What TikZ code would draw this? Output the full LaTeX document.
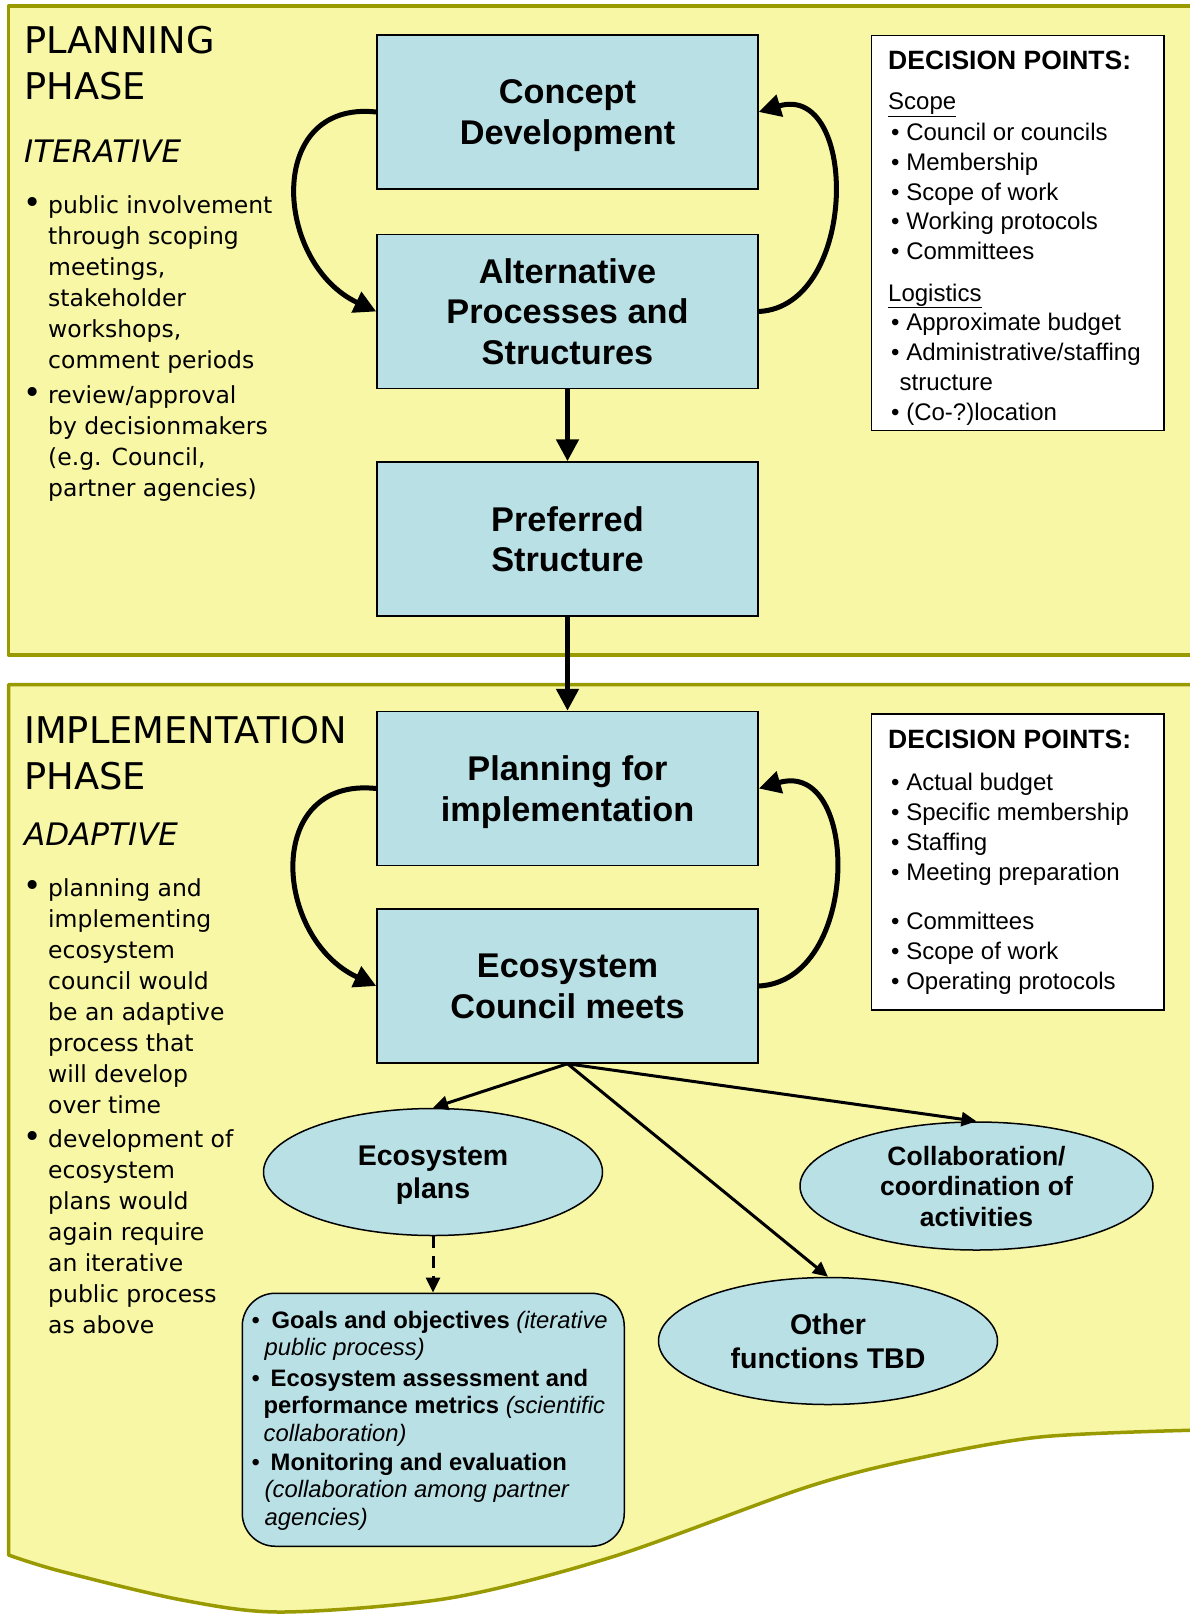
\documentclass[tikz,border=0pt]{standalone}
\usepackage{fontspec}
\setmainfont{Liberation Sans}
\newfontfamily\leftfont{DejaVu Sans}
\usepackage{tikz}
\usetikzlibrary{arrows.meta,shapes.geometric,positioning}
\definecolor{paneyellow}{RGB}{248,247,166}
\definecolor{paneolive}{RGB}{153,153,0}
\definecolor{stageblue}{RGB}{185,224,229}

\begin{document}
\begin{tikzpicture}[x=1pt,y=-1pt]
\tikzset{pane/.style = {fill=paneyellow,draw=paneolive,line width=3.5pt,line join=round},
 stage/.style = {rectangle,draw,line width=1.5pt,fill=stageblue,minimum width=381pt,minimum height=154pt,align=center,text depth=0pt,font=\fontsize{34.3}{40.5}\selectfont\bfseries},
 oval/.style = {ellipse,draw,line width=1.5pt,fill=stageblue,minimum width=339pt,minimum height=127pt,align=center,inner sep=0pt,text depth=0pt,font=\fontsize{28.5}{33.5}\selectfont\bfseries},
 decbox/.style = {draw,line width=1.5pt,fill=white,anchor=north west,minimum width=292.5pt,inner sep=0pt},
 txt/.style = {anchor=base west,inner sep=0pt},
 lefthead/.style = {txt,font=\leftfont\fontsize{36.8}{46.3}\selectfont},
 leftsub/.style = {txt,font=\leftfont\itshape\fontsize{31}{36}\selectfont},
 leftitem/.style = {txt,font=\leftfont\fontsize{23.5}{31}\selectfont},
 leftbullet/.style = {txt,font=\leftfont\fontsize{31}{31}\selectfont},
 dectitle/.style = {txt,font=\fontsize{26.5}{30}\selectfont\bfseries},
 decitem/.style = {txt,font=\fontsize{24}{29.8}\selectfont},
 noteitem/.style = {txt,font=\fontsize{23.8}{27.5}\selectfont},
 bigarrow/.style = {-{Triangle[length=22pt,width=22pt]},line width=5pt},
 thinarrow/.style = {-{Triangle[length=15pt,width=14pt]},line width=3pt}}
\useasboundingbox (0,0) rectangle (1190,1614);
%planning panel, runs off the right edge
\draw[pane] (1200,6) -- (8.5,6) -- (8.5,655) -- (1200,655);
%implementation panel with torn lower edge
\draw[pane] (1200,684.5) -- (8.5,684.5) -- (8.5,1555) -- plot[smooth,tension=0.5] coordinates {(8.5,1555) (60,1571) (182,1600) (283,1612) (450,1598) (612,1557) (804,1488) (910,1460) (1040,1437) (1200,1430)};
%main stages
\node[stage] (concept) at (567.5,112) {Concept\\Development};
\node[stage,below=44pt of concept] (altern) {Alternative\\Processes and\\Structures};
\node[stage,below=72pt of altern] (prefer) {Preferred\\Structure};
\node[stage,below=94pt of prefer] (planimpl) {Planning for\\implementation};
\node[stage,below=42pt of planimpl] (council) {Ecosystem\\Council meets};
%iteration loops
\draw[bigarrow] (concept.west) .. controls +(-112,-12) and +(-102,-48) .. (altern.west);
\draw[bigarrow] (altern.east) .. controls +(100,-5) and +(100,-30) .. (concept.east);
\draw[bigarrow] (planimpl.west) .. controls +(-113,-12) and +(-103,-48) .. (council.west);
\draw[bigarrow] (council.east) .. controls +(102,-5) and +(102,-30) .. (planimpl.east);
%straight flow
\draw[bigarrow] (altern) -- (prefer);
\draw[bigarrow] (prefer) -- (planimpl);
%council outputs
\node[oval] (ecoplans) at (433,1172) {Ecosystem\\plans};
\node[oval,minimum width=353pt,minimum height=128pt,font=\fontsize{26.5}{30.5}\selectfont\bfseries] (collab) at (976.5,1186) {Collaboration/\\coordination of\\activities};
\node[oval] (otherfn) at (828,1341) {Other\\functions TBD};
\draw[thinarrow] (council.south) -- (ecoplans.north);
\draw[thinarrow] (council.south) -- (collab.north);
\draw[thinarrow] (council.south) -- (otherfn.north);
%plan contents
\node[draw,line width=1.5pt,fill=stageblue,rounded corners=33pt,minimum width=382pt,minimum height=253pt,anchor=north west] (goals) at (241.5,1292.5) {};
\draw[thinarrow,dash pattern=on 12pt off 8pt] (ecoplans.south) -- (ecoplans.south |- goals.north);
\node[noteitem] (goalsa) at (251.5,1328) {\begin{tabular}[t]{@{}l@{}}\makebox[20pt][l]{\textbullet}\textbf{Goals and objectives} \textit{(iterative}\\\hspace*{13pt}\textit{public process)}\end{tabular}};
\node[noteitem] (goalsb) at (251.5,1386) {\begin{tabular}[t]{@{}l@{}}\makebox[19pt][l]{\textbullet}\textbf{Ecosystem assessment and}\\\hspace*{12pt}\textbf{performance metrics} \textit{(scientific}\\\hspace*{12pt}\textit{collaboration)}\end{tabular}};
\node[noteitem] (goalsc) at (251.5,1470) {\begin{tabular}[t]{@{}l@{}}\makebox[19pt][l]{\textbullet}\textbf{Monitoring and evaluation}\\\hspace*{13pt}\textit{(collaboration among partner}\\\hspace*{13pt}\textit{agencies)}\end{tabular}};
%planning phase notes
\node[lefthead] (plantitle) at (24,53.5) {\begin{tabular}[t]{@{}l@{}}PLANNING\\PHASE\end{tabular}};
\node[leftsub] (iter) at (24,162.6) {ITERATIVE};
\node[leftbullet] (pbul1) at (23,213) {\textbullet};
\node[leftitem] (pubinv) at (48,213) {\begin{tabular}[t]{@{}l@{}}public involvement\\through scoping\\meetings,\\stakeholder\\workshops,\\comment periods\end{tabular}};
\node[leftbullet] (pbul2) at (23,403.3) {\textbullet};
\node[leftitem] (review) at (48,403.3) {\begin{tabular}[t]{@{}l@{}}review/approval\\by decisionmakers\\(e.g. Council,\\partner agencies)\end{tabular}};
%implementation phase notes
\node[lefthead] (impltitle) at (24,743) {\begin{tabular}[t]{@{}l@{}}IMPLEMENTATION\\PHASE\end{tabular}};
\node[leftsub] (adapt) at (24,845) {ADAPTIVE};
\node[leftbullet] (ibul1) at (23,896.4) {\textbullet};
\node[leftitem] (adaptproc) at (48,896.4) {\begin{tabular}[t]{@{}l@{}}planning and\\implementing\\ecosystem\\council would\\be an adaptive\\process that\\will develop\\over time\end{tabular}};
\node[leftbullet] (ibul2) at (23,1147.5) {\textbullet};
\node[leftitem] (plandev) at (48,1147.5) {\begin{tabular}[t]{@{}l@{}}development of\\ecosystem\\plans would\\again require\\an iterative\\public process\\as above\end{tabular}};
%decision points, planning
\node[decbox,minimum height=395pt] (decplan) at (870.5,34.5) {};
\node[dectitle] (dechead1) at (888,69) {DECISION POINTS:};
\node[decitem] (scope) at (888,109.5) {\underline{Scope}};
\node[decitem] (scopelist) at (891,140.4) {\begin{tabular}[t]{@{}l@{}}\textbullet\ Council or councils\\\textbullet\ Membership\\\textbullet\ Scope of work\\\textbullet\ Working protocols\\\textbullet\ Committees\end{tabular}};
\node[decitem] (logist) at (888,301) {\underline{Logistics}};
\node[decitem] (logilist) at (891,330.8) {\begin{tabular}[t]{@{}l@{}}\textbullet\ Approximate budget\\\textbullet\ Administrative/staffing\\\hspace*{8.5pt}structure\\\textbullet\ (Co-?)location\end{tabular}};
%decision points, implementation
\node[decbox,minimum height=296pt] (decimpl) at (870.5,713) {};
\node[dectitle] (dechead2) at (888,748.6) {DECISION POINTS:};
\node[decitem] (implist) at (891,790.9) {\begin{tabular}[t]{@{}l@{}}\textbullet\ Actual budget\\\textbullet\ Specific membership\\\textbullet\ Staffing\\\textbullet\ Meeting preparation\end{tabular}};
\node[decitem] (commlist) at (891,929.9) {\begin{tabular}[t]{@{}l@{}}\textbullet\ Committees\\\textbullet\ Scope of work\\\textbullet\ Operating protocols\end{tabular}};
\end{tikzpicture}
\end{document}
